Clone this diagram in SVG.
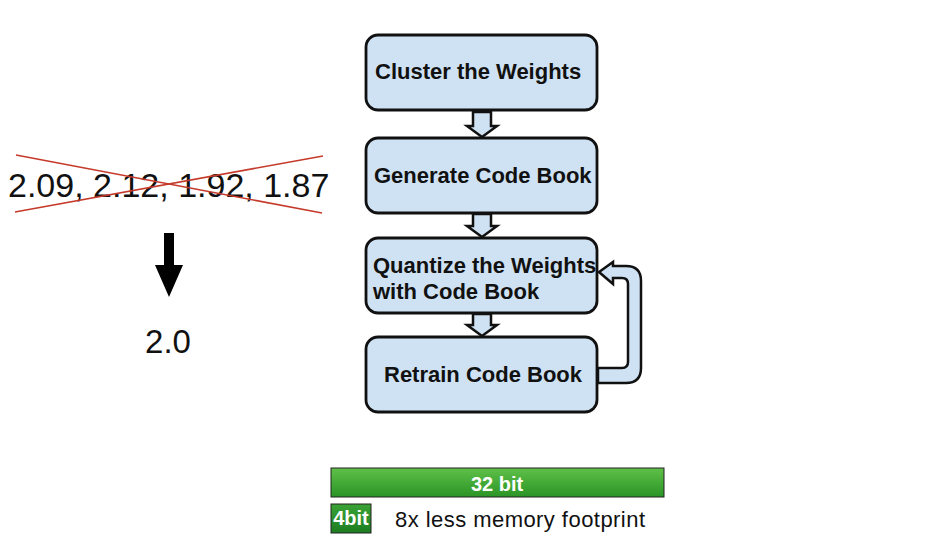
<svg xmlns="http://www.w3.org/2000/svg" width="944" height="541" viewBox="0 0 944 541">
<style>
.box{fill:#cfe2f3;stroke:#111;stroke-width:2.8}
.lbl{font-family:"Liberation Sans",Arial,sans-serif;font-weight:bold;font-size:22px;fill:#111}
.arr{fill:#cfe2f3;stroke:#111;stroke-width:2.5;stroke-linejoin:miter}
.num{font-family:"Liberation Sans",Arial,sans-serif;fill:#111}
.wt{font-family:"Liberation Sans",Arial,sans-serif;font-weight:bold;fill:#fff;font-size:20px}
</style>
<defs>
<linearGradient id="g32" x1="0" y1="0" x2="0" y2="1">
<stop offset="0" stop-color="#5fc048"/>
<stop offset="1" stop-color="#2a9426"/>
</linearGradient>
<linearGradient id="g4" x1="0" y1="0" x2="0" y2="1">
<stop offset="0" stop-color="#3aa336"/>
<stop offset="1" stop-color="#1d7d22"/>
</linearGradient>
</defs>
<rect width="944" height="541" fill="#fff"/>

<g id="numbers">
<text class="num" x="8" y="197" font-size="34">2.09, 2.12, 1.92, 1.87</text>
<line x1="16" y1="155" x2="322" y2="213" stroke="#c53a2a" stroke-width="1.6"/>
<line x1="15" y1="212" x2="323" y2="156" stroke="#c53a2a" stroke-width="1.6"/>
</g>
<g id="black-arrow">
<polygon points="164,233 174,233 174,265 183,265 169,297 155,265 164,265" fill="#000"/>
</g>
<g id="result">
<text class="num" x="168" y="353" font-size="33" text-anchor="middle">2.0</text>
</g>

<g id="n1"><rect class="box" x="366" y="35" width="231" height="75" rx="12"/>
<text class="lbl" x="375" y="79">Cluster the Weights</text></g>
<g id="n2"><rect class="box" x="366" y="138" width="231" height="75" rx="12"/>
<text class="lbl" x="374" y="183">Generate Code Book</text></g>
<g id="n3"><rect class="box" x="366" y="238" width="231" height="75" rx="12"/>
<text class="lbl" x="373" y="273">Quantize the Weights</text>
<text class="lbl" x="373" y="299">with Code Book</text></g>
<g id="n4"><rect class="box" x="366" y="337" width="231" height="75" rx="12"/>
<text class="lbl" x="384" y="382">Retrain Code Book</text></g>

<g id="connectors">
<polygon class="arr" points="473,112 491,112 491,126 497,126 482,137 467,126 473,126"/>
<polygon class="arr" points="473,214 491,214 491,226 497,226 482,237 467,226 473,226"/>
<polygon class="arr" points="473,314 491,314 491,325 497,325 482,336 467,325 473,325"/>
<path class="arr" d="M598,368 L622,368 Q628,368 628,362 L628,284 Q628,278 622,278 L613,278 L613,284 L599,272 L613,262 L613,266 L626,266 Q641,266 641,281 L641,368 Q641,383 626,383 L598,383 Z"/>
</g>

<g id="bar32">
<rect x="331" y="468" width="333" height="29" fill="url(#g32)" stroke="#222" stroke-width="1"/>
<text class="wt" x="497" y="491" text-anchor="middle">32 bit</text>
</g>
<g id="bar4">
<rect x="331" y="504" width="40" height="29" fill="url(#g4)" stroke="#222" stroke-width="1"/>
<text class="wt" x="351" y="525" text-anchor="middle">4bit</text>
</g>
<text x="395" y="527" font-family="Liberation Sans,Arial,sans-serif" font-size="22" fill="#111" textLength="250">8x less memory footprint</text>
</svg>
